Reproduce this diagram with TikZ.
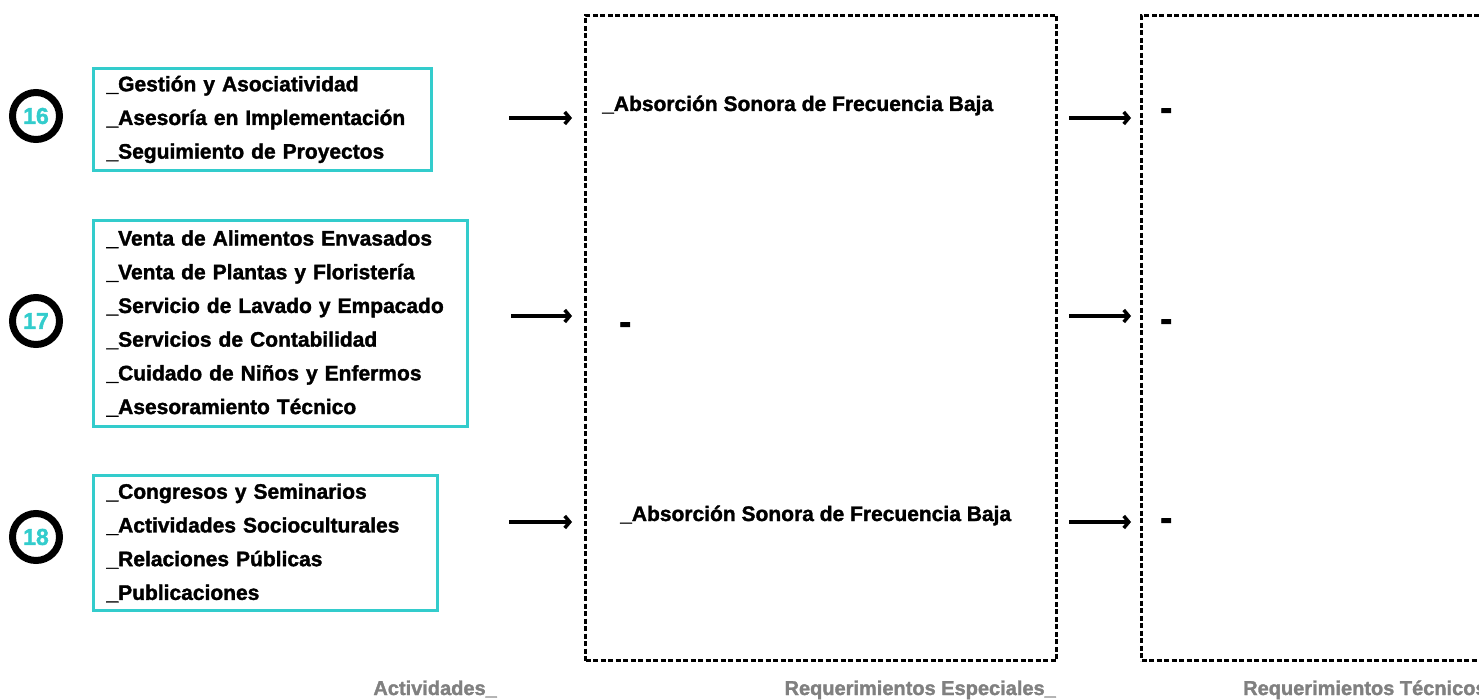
\documentclass[tikz,border=0pt]{standalone}
\usepackage{fontspec}
\setmainfont{Liberation Sans}
\newfontfamily\heavy{Liberation Sans Bold}[FakeBold=1.6]
\usetikzlibrary{arrows.meta}
\definecolor{cy}{RGB}{51,204,204}
\definecolor{gr}{RGB}{128,128,128}
\begin{document}
\begin{tikzpicture}[x=1pt,y=-1pt,
  num/.style={circle,draw=black,line width=7pt,minimum size=47pt,inner sep=0pt,text=cy,font=\heavy\fontsize{23}{23}\selectfont},
  listbox/.style={draw=cy,line width=3pt,align=left,anchor=north west,inner xsep=13pt,inner ysep=0pt,font=\heavy\fontsize{21}{33.7}\selectfont},
  dbox/.style={draw=black,line width=3pt,dash pattern=on 5pt off 2.5pt,anchor=north west,inner sep=0pt,minimum height=645pt},
  txt/.style={anchor=base west,inner sep=0pt,font=\heavy\fontsize{21}{25}\selectfont},
  dsh/.style={anchor=base west,inner sep=0pt,font=\heavy\fontsize{36}{40}\selectfont},
  lab/.style={inner sep=0pt,text=gr,font=\heavy\fontsize{20}{24}\selectfont},
  arr/.style={line width=3.5pt,-{Straight Barb[length=5pt,width=12pt]}}
]
\useasboundingbox (0,0) rectangle (1479,700);

% numbered circles
\node[num] (n16) at (36,116) {16};
\node[num] (n17) at (36,321) {17};
\node[num] (n18) at (36,537) {18};

% activity lists
\node[listbox,text width=312pt,minimum height=102pt] (b16) at (92,67)
  {\_Gestión y Asociatividad\\\_Asesoría en Implementación\\\_Seguimiento de Proyectos};
\node[listbox,text width=348pt,minimum height=206pt] (b17) at (92,219)
  {\_Venta de Alimentos Envasados\\\_Venta de Plantas y Floristería\\\_Servicio de Lavado y Empacado\\\_Servicios de Contabilidad\\\_Cuidado de Niños y Enfermos\\\_Asesoramiento Técnico};
\node[listbox,text width=318pt,minimum height=135pt] (b18) at (92,474)
  {\_Congresos y Seminarios\\\_Actividades Socioculturales\\\_Relaciones Públicas\\\_Publicaciones};

% dashed columns
\node[dbox,minimum width=471pt] (rq) at (584,14) {};
\node[dbox,minimum width=360pt] (rt) at (1140,14) {};

% texts in columns
\node[txt] (e1) at (602,111) {\_Absorción Sonora de Frecuencia Baja};
\node[dsh] (e2) at (619,334) {-};
\node[txt] (e3) at (620,521) {\_Absorción Sonora de Frecuencia Baja};
\node[dsh] (t1) at (1160,120) {-};
\node[dsh] (t2) at (1160,331) {-};
\node[dsh] (t3) at (1160,530) {-};

% arrows
\coordinate (a1s) at (509,118); \coordinate (a1e) at (572,118);
\coordinate (a2s) at (511,316); \coordinate (a2e) at (572,316);
\coordinate (a3s) at (509,522); \coordinate (a3e) at (572,522);
\coordinate (c1s) at (1069,118); \coordinate (c1e) at (1131,118);
\coordinate (c2s) at (1069,316); \coordinate (c2e) at (1131,316);
\coordinate (c3s) at (1069,522); \coordinate (c3e) at (1131,522);
\draw[arr] (a1s) -- (a1e);
\draw[arr] (a2s) -- (a2e);
\draw[arr] (a3s) -- (a3e);
\draw[arr] (c1s) -- (c1e);
\draw[arr] (c2s) -- (c2e);
\draw[arr] (c3s) -- (c3e);

% bottom labels
\node[lab,anchor=base east] (l1) at (497,695) {Actividades\_};
\node[lab,anchor=base east] (l2) at (1056,695) {Requerimientos Especiales\_};
\node[lab,anchor=base west] (l3) at (1243,695) {Requerimientos Técnicos\_};
\end{tikzpicture}
\end{document}
